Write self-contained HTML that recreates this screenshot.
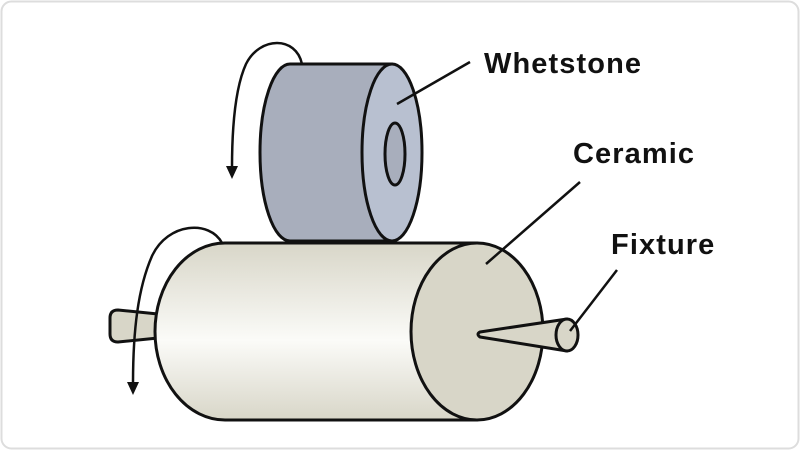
<!DOCTYPE html>
<html><head><style>
html,body{margin:0;padding:0;background:#fff;}
svg{display:block;}
text{font-family:"Liberation Sans",sans-serif;font-size:29px;font-weight:bold;letter-spacing:1.1px;fill:#111;}
</style></head><body>
<svg width="800" height="450" viewBox="0 0 800 450">
<defs>
<linearGradient id="cg" x1="0" y1="0" x2="0" y2="1">
<stop offset="0" stop-color="#d8d6c8"/>
<stop offset="0.55" stop-color="#fbfbf8"/>
<stop offset="1" stop-color="#d8d6c8"/>
</linearGradient>
</defs>
<rect x="1.5" y="1.5" width="797" height="447" rx="10" fill="#fff" stroke="#ddd" stroke-width="2"/>
<g stroke="#111" stroke-width="3" stroke-linejoin="round">
<path d="M158,314 L118,310 Q110,310 110,318 L110,334 Q110,342 118,342 L158,338 Z" fill="#d8d6c8"/>
<path d="M225,243 L477,243 L477,420 L225,420 A70,88.5 0 0 1 225,243 Z" fill="url(#cg)"/>
<ellipse cx="477" cy="331.5" rx="66" ry="88.5" fill="#d8d6c8"/>
<path d="M567,319 L480,332 Q476,334 480,337 L567,351 Z" fill="#d8d6c8"/>
<ellipse cx="567" cy="335" rx="11" ry="16" fill="#d8d6c8"/>
<path d="M290,64 L392,64 L392,241 L290,241 A30,88.5 0 0 1 290,64 Z" fill="#a8aebc"/>
<ellipse cx="392" cy="152.5" rx="30" ry="88.5" fill="#b8c0d0"/>
<ellipse cx="395" cy="154" rx="10" ry="31" fill="#a8aebc"/>
</g>
<g fill="none" stroke="#111" stroke-width="2.5">
<path d="M302,64 C296,36 260,36 246,64 C235,88 232,130 232,168"/>
<path d="M222,243 C210,220 168,222 152,256 C138,288 133,330 133,384"/>
<line x1="470" y1="62" x2="397" y2="104"/>
<line x1="580" y1="182" x2="486" y2="264"/>
<line x1="617" y1="270" x2="570" y2="331"/>
</g>
<path d="M226,166 L238,166 L232,179 Z" fill="#111"/>
<path d="M127,382 L139,382 L133,395 Z" fill="#111"/>
<text x="484" y="73">Whetstone</text>
<text x="573" y="163">Ceramic</text>
<text x="611" y="254">Fixture</text>
</svg>
</body></html>
